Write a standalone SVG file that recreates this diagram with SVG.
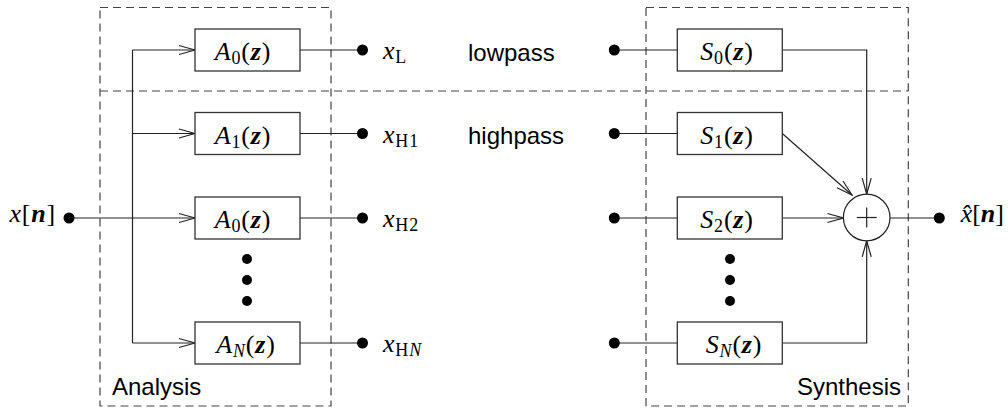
<svg xmlns="http://www.w3.org/2000/svg" width="1008" height="409" viewBox="0 0 1008 409">
  <style>
    .frame { fill: none; stroke: #444; stroke-width: 1.2; stroke-dasharray: 8 5; }
    .block rect { fill: #fff; stroke: #333; stroke-width: 1.3; }
    .wire { fill: none; stroke: #222; stroke-width: 1.2; }
    .dot { fill: #000; }
    .math { font-family: "Liberation Serif", "DejaVu Serif", serif; font-size: 26px; fill: #000; letter-spacing: 0.8px; }
    .tight { letter-spacing: 0; }
    .it { font-style: italic; }
    .bi { font-style: italic; font-weight: bold; }
    .sub { font-size: 18px; }
    .label { font-family: "Liberation Sans", Arial, sans-serif; font-size: 24px; fill: #000; }
  </style>
  <defs>
    <marker id="open-arrow" markerUnits="userSpaceOnUse" markerWidth="20" markerHeight="12" viewBox="-17 -6 18 12" refX="0" refY="0" orient="auto">
      <path d="M -16 -4.5 L 0 0 L -16 4.5" fill="none" stroke="#222" stroke-width="1.2"/>
    </marker>
  </defs>

  <!-- dashed frames: analysis, synthesis, lowpass band divider -->
  <g id="frames">
    <rect class="frame" x="100" y="7.5" width="231" height="398.5"/>
    <rect class="frame" x="646" y="7.5" width="262.3" height="398.5"/>
    <line class="frame" x1="100" y1="91" x2="908.3" y2="91"/>
  </g>

  <!-- connectors -->
  <g id="connectors">
    <!-- analysis input bus -->
    <line class="wire" x1="69" y1="218" x2="195" y2="218" marker-end="url(#open-arrow)"/>
    <line class="wire" x1="132.5" y1="50" x2="132.5" y2="343"/>
    <line class="wire" x1="132.5" y1="50" x2="195" y2="50" marker-end="url(#open-arrow)"/>
    <line class="wire" x1="132.5" y1="133.5" x2="195" y2="133.5" marker-end="url(#open-arrow)"/>
    <line class="wire" x1="132.5" y1="343" x2="195" y2="343" marker-end="url(#open-arrow)"/>
    <!-- analysis outputs -->
    <line class="wire" x1="300" y1="50" x2="362.5" y2="50"/>
    <line class="wire" x1="300" y1="133.5" x2="362.5" y2="133.5"/>
    <line class="wire" x1="300" y1="218" x2="362.5" y2="218"/>
    <line class="wire" x1="300" y1="343" x2="362.5" y2="343"/>
    <!-- synthesis inputs -->
    <line class="wire" x1="614.3" y1="50" x2="677.3" y2="50"/>
    <line class="wire" x1="614.3" y1="133.5" x2="677.3" y2="133.5"/>
    <line class="wire" x1="614.3" y1="218" x2="677.3" y2="218"/>
    <line class="wire" x1="614.3" y1="343" x2="677.3" y2="343"/>
    <!-- synthesis branches into the adder -->
    <polyline class="wire" points="782.3,50 866.7,50 866.7,194.2" marker-end="url(#open-arrow)"/>
    <line class="wire" x1="782.3" y1="133.5" x2="852" y2="195" marker-end="url(#open-arrow)"/>
    <line class="wire" x1="782.3" y1="218" x2="843.4" y2="218" marker-end="url(#open-arrow)"/>
    <polyline class="wire" points="782.3,343 866.7,343 866.7,240.8" marker-end="url(#open-arrow)"/>
    <!-- adder output -->
    <line class="wire" x1="890" y1="218" x2="939.3" y2="218"/>
  </g>

  <!-- terminals -->
  <g id="input">
    <circle class="dot" cx="69" cy="218" r="5.5"/>
    <text class="math" x="56" y="222" text-anchor="end"><tspan class="it">x</tspan>[<tspan class="bi">n</tspan>]</text>
  </g>
  <g id="output">
    <circle class="dot" cx="939.3" cy="218" r="5.5"/>
    <text class="math tight" x="1004" y="222" text-anchor="end"><tspan class="it">x̂</tspan>[<tspan class="bi">n</tspan>]</text>
  </g>

  <!-- analysis filters -->
  <g id="A0-low" class="block">
    <rect x="195" y="29" width="105" height="42"/>
    <text class="math" x="243" y="60" text-anchor="middle"><tspan class="it">A</tspan><tspan class="sub" dy="4">0</tspan><tspan dy="-4">(</tspan><tspan class="bi">z</tspan>)</text>
  </g>
  <g id="A1" class="block">
    <rect x="195" y="112.5" width="105" height="42"/>
    <text class="math" x="243" y="143.5" text-anchor="middle"><tspan class="it">A</tspan><tspan class="sub" dy="4">1</tspan><tspan dy="-4">(</tspan><tspan class="bi">z</tspan>)</text>
  </g>
  <g id="A0-high" class="block">
    <rect x="195" y="197" width="105" height="42"/>
    <text class="math" x="243" y="228" text-anchor="middle"><tspan class="it">A</tspan><tspan class="sub" dy="4">0</tspan><tspan dy="-4">(</tspan><tspan class="bi">z</tspan>)</text>
  </g>
  <g id="AN" class="block">
    <rect x="195" y="322" width="105" height="42"/>
    <text class="math" x="246" y="353" text-anchor="middle"><tspan class="it">A</tspan><tspan class="sub it" dy="4">N</tspan><tspan dy="-4">(</tspan><tspan class="bi">z</tspan>)</text>
  </g>
  <g id="analysis-ellipsis">
    <circle class="dot" cx="247" cy="259" r="5"/>
    <circle class="dot" cx="247" cy="280" r="5"/>
    <circle class="dot" cx="247" cy="301" r="5"/>
  </g>

  <!-- subband signals -->
  <g id="xL">
    <circle class="dot" cx="362.5" cy="50" r="5.5"/>
    <text class="math" x="383" y="59"><tspan class="it">x</tspan><tspan class="sub" dy="4">L</tspan></text>
  </g>
  <g id="xH1">
    <circle class="dot" cx="362.5" cy="133.5" r="5.5"/>
    <text class="math" x="383" y="142.5"><tspan class="it">x</tspan><tspan class="sub" dy="4">H1</tspan></text>
  </g>
  <g id="xH2">
    <circle class="dot" cx="362.5" cy="218" r="5.5"/>
    <text class="math" x="383" y="227"><tspan class="it">x</tspan><tspan class="sub" dy="4">H2</tspan></text>
  </g>
  <g id="xHN">
    <circle class="dot" cx="362.5" cy="343" r="5.5"/>
    <text class="math" x="383" y="352"><tspan class="it">x</tspan><tspan class="sub" dy="4">H<tspan class="it">N</tspan></tspan></text>
  </g>
  <text class="label" x="468" y="60.5">lowpass</text>
  <text class="label" x="468" y="144">highpass</text>

  <!-- synthesis side terminals -->
  <g id="in-S0"><circle class="dot" cx="614.3" cy="50" r="5.5"/></g>
  <g id="in-S1"><circle class="dot" cx="614.3" cy="133.5" r="5.5"/></g>
  <g id="in-S2"><circle class="dot" cx="614.3" cy="218" r="5.5"/></g>
  <g id="in-SN"><circle class="dot" cx="614.3" cy="343" r="5.5"/></g>

  <!-- synthesis filters -->
  <g id="S0" class="block">
    <rect x="677.3" y="29" width="105" height="42"/>
    <text class="math" x="727" y="60" text-anchor="middle"><tspan class="it">S</tspan><tspan class="sub" dy="4">0</tspan><tspan dy="-4">(</tspan><tspan class="bi">z</tspan>)</text>
  </g>
  <g id="S1" class="block">
    <rect x="677.3" y="112.5" width="105" height="42"/>
    <text class="math" x="727" y="143.5" text-anchor="middle"><tspan class="it">S</tspan><tspan class="sub" dy="4">1</tspan><tspan dy="-4">(</tspan><tspan class="bi">z</tspan>)</text>
  </g>
  <g id="S2" class="block">
    <rect x="677.3" y="197" width="105" height="42"/>
    <text class="math" x="727" y="228" text-anchor="middle"><tspan class="it">S</tspan><tspan class="sub" dy="4">2</tspan><tspan dy="-4">(</tspan><tspan class="bi">z</tspan>)</text>
  </g>
  <g id="SN" class="block">
    <rect x="677.3" y="322" width="105" height="42"/>
    <text class="math" x="734" y="353" text-anchor="middle"><tspan class="it">S</tspan><tspan class="sub it" dy="4">N</tspan><tspan dy="-4">(</tspan><tspan class="bi">z</tspan>)</text>
  </g>
  <g id="synthesis-ellipsis">
    <circle class="dot" cx="730" cy="259" r="5"/>
    <circle class="dot" cx="730" cy="280" r="5"/>
    <circle class="dot" cx="730" cy="301" r="5"/>
  </g>

  <!-- summing junction -->
  <g id="adder">
    <circle cx="866.7" cy="217.5" r="23.3" fill="#fff" stroke="#222" stroke-width="1.2"/>
    <line class="wire" x1="856.7" y1="217.5" x2="876.7" y2="217.5"/>
    <line class="wire" x1="866.7" y1="207.5" x2="866.7" y2="227.5"/>
  </g>

  <text class="label" x="112" y="395">Analysis</text>
  <text class="label" x="901" y="395" text-anchor="end">Synthesis</text>
</svg>
